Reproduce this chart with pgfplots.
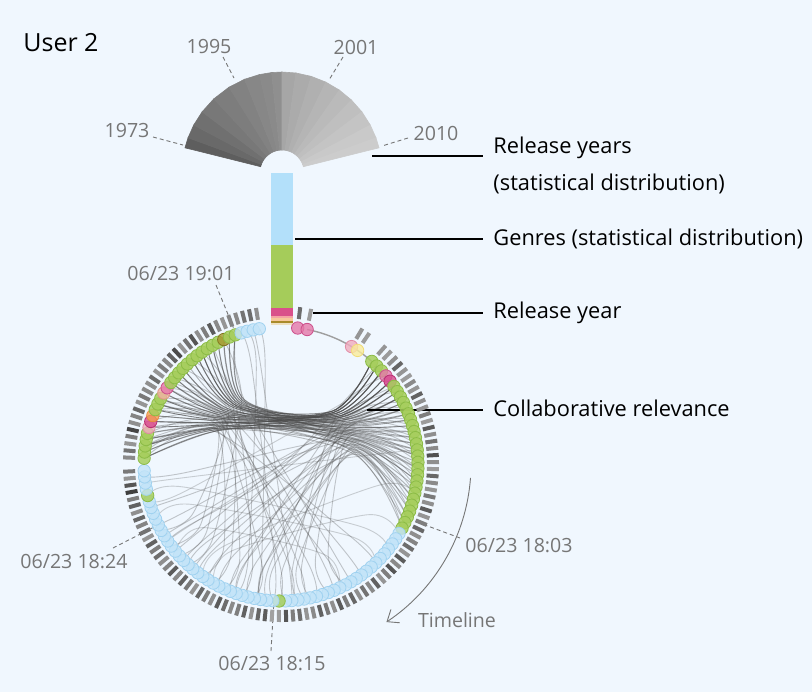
\documentclass[border=0pt]{standalone}
\usepackage{pgfplots}
\pgfplotsset{compat=1.18}
\usepgfplotslibrary{polar}
\usepackage{pgfplotstable}
\usepackage{fontspec}
\setmainfont{Open Sans}
\usetikzlibrary{arrows.meta}

\definecolor{bg}{RGB}{240,247,254}
\definecolor{labelgray}{RGB}{118,118,118}
% genre bar
\definecolor{gblue}{RGB}{179,224,250}
\definecolor{ggreen}{RGB}{165,204,90}
\definecolor{gpink}{RGB}{217,80,138}
\definecolor{gsalmon}{RGB}{244,163,163}
\definecolor{gpeach}{RGB}{246,199,155}
\definecolor{golive}{RGB}{169,139,43}
\definecolor{glight}{RGB}{237,224,192}
% ring markers
\definecolor{mb}{RGB}{195,228,248}\definecolor{mbe}{RGB}{160,210,240}
\definecolor{mg}{RGB}{166,206,92}\definecolor{mge}{RGB}{140,188,70}
\definecolor{mp}{RGB}{228,120,168}\definecolor{mpe}{RGB}{205,80,140}
\definecolor{mm}{RGB}{214,72,140}\definecolor{mme}{RGB}{185,45,115}
\definecolor{mq}{RGB}{240,172,190}\definecolor{mqe}{RGB}{225,140,165}
\definecolor{my}{RGB}{250,236,155}\definecolor{mye}{RGB}{240,220,120}
\definecolor{mo}{RGB}{245,160,80}\definecolor{moe}{RGB}{230,138,60}
\definecolor{ms}{RGB}{240,178,160}\definecolor{mse}{RGB}{225,150,135}
\definecolor{mv}{RGB}{165,150,45}\definecolor{mve}{RGB}{130,118,30}

% items on the ring: angle, tick shade (0 dark .. 100 light), marker class
\pgfplotstableread{
a g c
83.0 45 p
79.0 85 p
59.0 80 q
56.0 85 y
48.5 80 g
45.7 85 g
42.8 75 g
40.0 40 p
37.2 80 m
34.5 85 g
31.9 70 g
29.3 80 g
26.7 35 g
24.1 75 g
21.5 80 g
18.9 60 g
16.3 85 g
13.7 30 g
11.1 75 g
8.5 50 g
5.9 70 g
3.3 20 g
0.7 75 g
-1.9 85 g
-4.5 40 g
-7.1 70 g
-9.7 80 g
-12.3 55 g
-14.9 75 g
-17.5 30 g
-20.1 80 g
-22.7 60 g
-25.3 40 g
-27.9 75 g
-30.5 65 b
-33.1 45 b
-35.7 80 b
-38.4 30 b
-41.0 70 b
-43.6 25 b
-46.2 60 b
-48.8 80 b
-51.5 35 b
-54.1 70 b
-56.7 50 b
-59.3 75 b
-61.9 40 b
-64.6 60 b
-67.2 30 b
-69.8 75 b
-72.4 55 b
-75.0 35 b
-77.7 70 b
-80.3 80 b
-82.9 45 b
-85.5 60 b
-88.1 25 b
-90.8 85 g
-93.4 90 b
-96.0 30 b
-98.6 40 b
-101.2 80 b
-103.9 35 b
-106.5 60 b
-109.1 70 b
-111.7 45 b
-114.3 30 b
-117.0 75 b
-119.6 60 b
-122.2 40 b
-124.8 80 b
-127.4 55 b
-130.1 35 b
-132.7 70 b
-135.3 30 b
-137.9 65 b
-140.5 75 b
-143.2 45 b
-145.8 60 b
-148.4 35 b
-151.0 80 b
-153.6 50 b
-156.3 65 b
-158.9 40 b
-161.5 75 b
-164.1 35 b
-166.7 60 g
-169.4 5 b
-172.0 25 b
-174.6 80 b
-177.2 55 b
177.6 70 g
175.0 50 g
172.4 80 g
169.7 60 g
167.1 10 g
164.5 75 q
161.9 65 m
159.3 40 o
156.6 80 g
154.0 55 g
151.4 70 g
148.8 75 s
146.2 45 p
143.5 80 g
140.9 60 g
138.3 70 g
135.7 35 g
133.1 15 g
130.4 80 g
127.8 50 g
125.2 25 g
122.6 75 g
120.0 60 g
117.3 30 g
114.7 70 v
112.1 80 g
109.5 65 g
106.9 70 b
104.3 50 b
101.7 45 b
99.1 75 b
}\items

% links between items: angle a, angle b, bundled (1) or not (0), opacity
\pgfplotstableread{
a b t o
48.5 151.4 1 0.70
48.5 125.2 1 0.65
48.5 169.7 1 0.60
45.7 164.5 1 0.70
45.7 138.3 1 0.65
45.7 177.6 1 0.55
42.8 156.6 1 0.70
42.8 120.0 1 0.60
42.8 143.5 1 0.55
40.0 146.2 1 0.70
40.0 127.8 1 0.55
37.2 161.9 1 0.70
37.2 130.4 1 0.60
37.2 112.1 1 0.50
34.5 172.4 1 0.65
34.5 114.7 1 0.55
34.5 154.0 1 0.50
31.9 140.9 1 0.55
31.9 122.6 1 0.45
29.3 177.6 1 0.55
29.3 127.8 1 0.50
29.3 148.8 1 0.45
26.7 154.0 1 0.50
26.7 135.7 1 0.45
24.1 117.3 1 0.50
24.1 161.9 1 0.45
21.5 169.7 1 0.50
21.5 109.5 1 0.45
18.9 135.7 1 0.50
18.9 175.0 1 0.40
16.3 148.8 1 0.45
16.3 140.9 1 0.40
13.7 112.1 1 0.45
13.7 167.1 1 0.40
11.1 175.0 1 0.45
11.1 130.4 1 0.40
8.5 122.6 1 0.45
8.5 159.3 1 0.40
5.9 159.3 1 0.45
5.9 117.3 1 0.40
3.3 143.5 1 0.45
3.3 172.4 1 0.40
0.7 109.5 1 0.40
-1.9 167.1 1 0.40
-1.9 125.2 1 0.40
-4.5 133.1 1 0.40
-7.1 151.4 1 0.40
-7.1 154.0 1 0.40
-9.7 120.0 1 0.40
-12.3 138.3 1 0.40
-14.9 172.4 1 0.40
-17.5 125.2 1 0.40
-20.1 156.6 1 0.40
-22.7 146.2 1 0.35
-25.3 114.7 1 0.35
-27.9 164.5 1 0.35
40.0 -82.9 1 0.30
31.9 -109.1 1 0.30
26.7 -96.0 1 0.30
21.5 -135.3 1 0.30
16.3 -69.8 1 0.30
11.1 -148.4 1 0.30
5.9 -122.2 1 0.30
0.7 -88.1 1 0.30
-4.5 -161.5 1 0.30
-9.7 -103.9 1 0.30
-14.9 -80.3 1 0.30
-20.1 -117.0 1 0.30
-25.3 -98.6 1 0.30
45.7 -130.1 1 0.30
34.5 -140.5 1 0.30
24.1 -77.7 1 0.30
18.9 -153.6 1 0.30
13.7 -98.6 1 0.30
8.5 -111.7 1 0.30
3.3 -61.9 1 0.30
-1.9 -174.6 1 0.30
-7.1 -127.4 1 0.30
-12.3 -145.8 1 0.30
-17.5 -109.1 1 0.30
-22.7 -93.4 1 0.30
-27.9 -132.7 1 0.30
172.4 -124.8 1 0.30
167.1 -101.2 1 0.30
161.9 -85.5 1 0.30
156.6 -137.9 1 0.30
151.4 -114.3 1 0.30
146.2 -80.3 1 0.30
140.9 -151.0 1 0.30
135.7 -90.8 1 0.30
130.4 -119.6 1 0.30
125.2 -106.5 1 0.30
120.0 -67.2 1 0.30
114.7 -132.7 1 0.30
109.5 -59.3 1 0.30
169.7 -143.2 1 0.30
154.0 -75.0 1 0.30
143.5 -54.1 1 0.30
177.6 -46.2 1 0.30
175.0 -64.6 1 0.30
106.9 -93.4 0 0.30
104.3 -109.1 0 0.30
101.7 -85.5 0 0.30
99.1 -101.2 0 0.30
-38.4 -166.7 0 0.25
-46.2 -156.3 0 0.25
-30.5 -119.6 0 0.25
-64.6 -140.5 0 0.25
29.3 -145.8 0 0.25
42.8 -164.1 0 0.25
5.9 -172.0 0 0.25
-12.3 -124.8 0 0.25
}\chords
\pgfplotstablegetrowsof{\chords}
\pgfmathtruncatemacro\nch{\pgfplotsretval-1}

% bundling point for one end of a link
\newcommand\hubof[2]{%
  \pgfmathsetmacro\hubang{ifthenelse(#2==1, ifthenelse(and(#1>-29,#1<60), 0.5*(#1)+21.5, ifthenelse(#1>108, 0.5*(#1)+65, #1)), #1)}%
  \pgfmathsetmacro\hubrad{ifthenelse(#2==1, ifthenelse(or(and(#1>-29,#1<60),#1>108), 74, 100), 100)}%
}
\newcommand\fanwedge[3]{%
  \addplot[fill=black!#3, draw=black!#3, line width=0.3pt, data cs=polar]
    coordinates {(#1,22) (#1,100) (#2,100) (#2,22)} -- cycle;}

\pgfplotsset{
  chordline/.style={smooth, data cs=polar, no markers, draw=black!70, line width=0.45pt},
}
\tikzset{
  leader/.style={labelgray, line width=0.45pt, dash pattern=on 2pt off 1.5pt},
  pointer/.style={black, line width=0.6pt},
  bigtext/.style={anchor=west, inner sep=0pt, font=\fontsize{10.9}{12}\selectfont},
  graytext/.style={labelgray, font=\fontsize{9.8}{11}\selectfont},
}

\begin{document}
\begin{tikzpicture}
\begin{axis}[
  x=0.5pt, y=0.5pt,
  xmin=-281, xmax=531, ymin=-228, ymax=464,
  hide axis, clip=false,
  anchor=origin, at={(0,0)},
  colormap={tk}{rgb255(0cm)=(72,72,72); rgb255(1cm)=(214,214,214)},
  point meta min=0, point meta max=100,
]
% background
\addplot[fill=bg, draw=none] coordinates {(-281,-228) (531,-228) (531,464) (-281,464)} -- cycle;

% links
\pgfplotsinvokeforeach{0,...,\nch}{%
  \pgfplotstablegetelem{#1}{a}\of\chords\edef\ca{\pgfplotsretval}%
  \pgfplotstablegetelem{#1}{b}\of\chords\edef\cb{\pgfplotsretval}%
  \pgfplotstablegetelem{#1}{t}\of\chords\edef\ct{\pgfplotsretval}%
  \pgfplotstablegetelem{#1}{o}\of\chords\edef\co{\pgfplotsretval}%
  \hubof{\ca}{\ct}\edef\ha{\hubang}\edef\ra{\hubrad}%
  \hubof{\cb}{\ct}\edef\hb{\hubang}\edef\rb{\hubrad}%
  \edef\doplot{\noexpand\addplot[chordline, draw opacity=\co] coordinates {(\ca,137) (\ha,\ra) (\hb,\rb) (\cb,137)};}%
  \doplot
}

% timeline thread between the first items
\draw[gray!75, line width=0.7pt] (axis cs:26.1,134.5) arc[start angle=79, end angle=48.5, radius=68.5pt];

% item markers
\addplot[scatter, only marks, data cs=polar, mark=*, mark size=3.1pt, line width=0.4pt,
  scatter src=explicit symbolic,
  scatter/classes={
    b={fill=mb, draw=mbe, fill opacity=0.8},
    g={fill=mg, draw=mge, fill opacity=0.85},
    p={fill=mp, draw=mpe, fill opacity=0.8},
    m={fill=mm, draw=mme, fill opacity=0.8},
    q={fill=mq, draw=mqe, fill opacity=0.8},
    y={fill=my, draw=mye, fill opacity=0.8},
    o={fill=mo, draw=moe, fill opacity=0.8},
    s={fill=ms, draw=mse, fill opacity=0.8},
    v={fill=mv, draw=mve, fill opacity=0.8}}]
  table[x=a, y expr=137, meta=c] {\items};

% release-year ticks
\addplot[scatter, only marks, data cs=polar, mark=-, mark size=3pt, line width=2pt,
  point meta=\thisrow{g},
  visualization depends on={\thisrow{a} \as \tickang},
  scatter/@pre marker code/.append style={/tikz/rotate=\tickang}]
  table[x=a, y expr=152] {\items};

% genre distribution bar
\addplot[fill=gblue, draw=none] coordinates {(-10,219) (12,219) (12,291.3) (-10,291.3)} -- cycle;
\addplot[fill=ggreen, draw=none] coordinates {(-10,155.7) (12,155.7) (12,219) (-10,219)} -- cycle;
\addplot[fill=gpink, draw=none] coordinates {(-10,148.3) (12,148.3) (12,155.7) (-10,155.7)} -- cycle;
\addplot[fill=gsalmon, draw=none] coordinates {(-10,146) (12,146) (12,148.3) (-10,148.3)} -- cycle;
\addplot[fill=gpeach, draw=none] coordinates {(-10,143.3) (12,143.3) (12,146) (-10,146)} -- cycle;
\addplot[fill=golive, draw=none] coordinates {(-10,141.3) (12,141.3) (12,143.3) (-10,143.3)} -- cycle;
\addplot[fill=glight, draw=none] coordinates {(-10,139.3) (12,139.3) (12,141.3) (-10,141.3)} -- cycle;

% pointers and labels
\draw[pointer] (axis cs:91,308) -- (axis cs:202,308);
\draw[pointer] (axis cs:14,225) -- (axis cs:202,225);
\draw[pointer] (axis cs:32,151) -- (axis cs:202,151);
\draw[pointer] (axis cs:86,54) -- (axis cs:202,54);
\node[bigtext] at (axis cs:212,316) {Release years};
\node[bigtext] at (axis cs:212,280) {(statistical distribution)};
\node[bigtext] at (axis cs:212,225) {Genres (statistical distribution)};
\node[bigtext] at (axis cs:212,151) {Release year};
\node[bigtext] at (axis cs:212,56) {Collaborative relevance};
\node[anchor=west, inner sep=0pt, font=\fontsize{12.5}{14}\selectfont] at (axis cs:-258,421) {User 2};

% year labels
\draw[leader] (axis cs:-128,327) -- (axis cs:-98,319);
\draw[leader] (axis cs:-58,407) -- (axis cs:-47,386);
\draw[leader] (axis cs:62,407) -- (axis cs:48,384);
\draw[leader] (axis cs:127,326) -- (axis cs:101,318);
\node[graytext] at (axis cs:-154,334) {1973};
\node[graytext] at (axis cs:-72,418) {1995};
\node[graytext] at (axis cs:75,417) {2001};
\node[graytext] at (axis cs:155,331) {2010};

% time labels
\draw[leader] (axis cs:-65,179) -- (axis cs:-45,130);
\draw[leader] (axis cs:-168,-84) -- (axis cs:-123,-61);
\draw[leader] (axis cs:-10,-187) -- (axis cs:-7,-136);
\draw[leader] (axis cs:136,-58) -- (axis cs:179,-74);
\node[graytext] at (axis cs:-100,190) {06/23 19:01};
\node[graytext] at (axis cs:-207,-98) {06/23 18:24};
\node[graytext] at (axis cs:-9,-200) {06/23 18:15};
\node[graytext] at (axis cs:238,-82) {06/23 18:03};
\draw[labelgray, line width=0.45pt, -{Straight Barb[length=5pt, width=8pt]}]
  (axis cs:189.5,-13.9) arc[start angle=-4.2, end angle=-56.3, radius=95pt];
\node[graytext] at (axis cs:176,-156) {Timeline};
\end{axis}

% release-year fan
\begin{axis}[
  x=0.5pt, y=0.5pt,
  xmin=-110, xmax=110, ymin=-10, ymax=110,
  hide axis, clip=false,
  anchor=origin, at={(0.5pt,146pt)},
]
\fanwedge{166}{160}{63}
\fanwedge{160}{152}{59}
\fanwedge{152}{143}{56}
\fanwedge{143}{133}{53}
\fanwedge{133}{122}{51}
\fanwedge{122}{112}{49}
\fanwedge{112}{103}{47}
\fanwedge{103}{96}{46}
\fanwedge{96}{90}{44}
\fanwedge{90}{82}{35}
\fanwedge{82}{73}{33}
\fanwedge{73}{64}{31}
\fanwedge{64}{55}{29}
\fanwedge{55}{46}{27}
\fanwedge{46}{37}{25}
\fanwedge{37}{28}{23}
\fanwedge{28}{20}{21}
\fanwedge{20}{14}{20}
\end{axis}
\end{tikzpicture}
\end{document}
